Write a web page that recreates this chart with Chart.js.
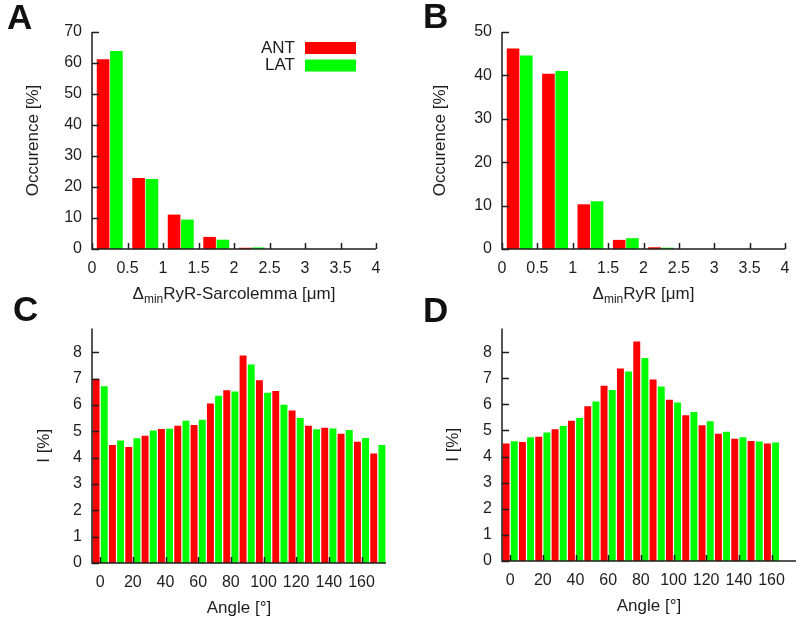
<!DOCTYPE html>
<html>
<head>
<meta charset="utf-8">
<title>RyR distances and angles</title>
<script src="https://cdn.jsdelivr.net/npm/chart.js@4.4.1/dist/chart.umd.min.js"></script>
<style>
    body { margin: 0; background: #fff; }
    #fig { position: relative; width: 800px; height: 618px; overflow: hidden; background: #fff; }
    #fig canvas { position: absolute; }
    .letter { position: absolute; font: bold 35px 'Liberation Sans', Arial, sans-serif; line-height: 1; color: #111; }
</style>
</head>
<body>
<div id="fig">
    <canvas id="chartA" width="400" height="309" style="left:0px;top:0px"></canvas>
    <canvas id="chartB" width="400" height="309" style="left:400px;top:0px"></canvas>
    <canvas id="chartC" width="400" height="309" style="left:0px;top:309px"></canvas>
    <canvas id="chartD" width="400" height="309" style="left:400px;top:309px"></canvas>
    <div class="letter" style="left:7px;top:-1px">A</div>
    <div class="letter" style="left:423px;top:-2px">B</div>
    <div class="letter" style="left:13px;top:291px">C</div>
    <div class="letter" style="left:423px;top:292px">D</div>
</div>
<script>
// ---- data ----
const seriesNames = ['ANT', 'LAT'];

// A / B: histogram bins of 0.5 um (bin centres)
const distBins = [0.25, 0.75, 1.25, 1.75, 2.25, 2.75, 3.25, 3.75];
const antSarcolemma = [61.2, 22.9, 11.1, 3.9, 0.4, 0, 0, 0];
const latSarcolemma = [63.9, 22.6, 9.5, 3.0, 0.5, 0, 0, 0];
const antRyR = [46.2, 40.4, 10.3, 2.1, 0.4, 0, 0, 0];
const latRyR = [44.6, 41.0, 11.0, 2.5, 0.3, 0, 0, 0];

// C / D: angle bins of 10 degrees
const anglesC = [0, 10, 20, 30, 40, 50, 60, 70, 80, 90, 100, 110, 120, 130, 140, 150, 160, 170];
const antAngleC = [7.0, 4.48, 4.4, 4.83, 5.09, 5.21, 5.24, 6.06, 6.56, 7.88, 6.94, 6.53, 5.79, 5.21, 5.14, 4.91, 4.6, 4.16];
const latAngleC = [6.71, 4.65, 4.74, 5.03, 5.1, 5.4, 5.44, 6.35, 6.51, 7.54, 6.46, 6.01, 5.51, 5.08, 5.11, 5.05, 4.75, 4.48];
const anglesD = [0, 10, 20, 30, 40, 50, 60, 70, 80, 90, 100, 110, 120, 130, 140, 150, 160];
const antAngleD = [4.5, 4.56, 4.76, 5.05, 5.37, 5.93, 6.71, 7.37, 8.41, 6.95, 6.18, 5.58, 5.2, 4.87, 4.68, 4.6, 4.5];
const latAngleD = [4.59, 4.74, 4.92, 5.17, 5.48, 6.11, 6.55, 7.26, 7.77, 6.68, 6.07, 5.71, 5.35, 4.95, 4.74, 4.58, 4.54];

// tick labels
const distTicks = [0, 0.5, 1, 1.5, 2, 2.5, 3, 3.5, 4];
const occTicksA = [0, 10, 20, 30, 40, 50, 60, 70];
const occTicksB = [0, 10, 20, 30, 40, 50];
const angleTicks = [0, 20, 40, 60, 80, 100, 120, 140, 160];
const intensityTicks = [0, 1, 2, 3, 4, 5, 6, 7, 8];

const RED = '#ff0000';
const GREEN = '#00ff00';
const INK = '#1e1e1e';
const FONT = "'Liberation Sans', Arial, Helvetica, sans-serif";

Chart.defaults.font.family = FONT;
Chart.defaults.color = INK;

// gnuplot-ish look: axis lines, inward ticks, titles with subscripts, legend
const panelDecor = {
    id: 'panelDecor',
    afterDatasetsDraw(chart, args, opts) {
        const { ctx, chartArea: a, scales: { x, y } } = chart;
        ctx.save();
        ctx.strokeStyle = INK;
        ctx.lineWidth = 1.5;
        ctx.beginPath();
        ctx.moveTo(a.left, a.top);
        ctx.lineTo(a.left, a.bottom);
        ctx.lineTo(a.right, a.bottom);
        y.ticks.forEach((t, i) => {
            const py = Math.round(y.getPixelForTick(i)) + 0.5;
            ctx.moveTo(a.left, py);
            ctx.lineTo(a.left + 7, py);
        });
        x.ticks.forEach((t, i) => {
            const px = Math.round(x.getPixelForTick(i)) + 0.5;
            ctx.moveTo(px, a.bottom);
            ctx.lineTo(px, a.bottom - 6);
        });
        ctx.stroke();

        // y title
        ctx.fillStyle = INK;
        ctx.font = '17px ' + FONT;
        ctx.textAlign = 'center';
        ctx.textBaseline = 'middle';
        ctx.save();
        ctx.translate(opts.yTitleX, (a.top + a.bottom) / 2);
        ctx.rotate(-Math.PI / 2);
        ctx.fillText(opts.yTitle, 0, 0);
        ctx.restore();

        // x title, pieces may be subscripts
        const parts = opts.xTitle;
        const widths = parts.map(p => {
            ctx.font = (p.sub ? '12px ' : '17px ') + FONT;
            return ctx.measureText(p.text).width;
        });
        const total = widths.reduce((s, w) => s + w, 0);
        let cx = (a.left + a.right) / 2 - total / 2;
        const baseY = a.bottom + opts.xTitleOffset;
        ctx.textAlign = 'left';
        ctx.textBaseline = 'alphabetic';
        parts.forEach((p, i) => {
            ctx.font = (p.sub ? '12px ' : '17px ') + FONT;
            ctx.fillText(p.text, cx, baseY + (p.sub ? 4 : 0));
            cx += widths[i];
        });

        // legend (panel A only)
        if (opts.legend) {
            const colors = [RED, GREEN];
            ctx.font = '17px ' + FONT;
            ctx.textAlign = 'right';
            ctx.textBaseline = 'middle';
            seriesNames.forEach((name, i) => {
                const cy = 48 + i * 17.5;
                ctx.fillStyle = INK;
                ctx.fillText(name, 295, cy);
                ctx.fillStyle = colors[i];
                ctx.fillRect(305, cy - 6, 51, 12);
            });
        }
        ctx.restore();
    }
};

function fixTicks(values) {
    return scale => { scale.ticks = values.map(v => ({ value: v })); };
}

function makePanel(id, cfg) {
    const ctx = document.getElementById(id).getContext('2d');
    const toPoints = (xs, ys) => xs.map((v, i) => ({ x: v, y: ys[i] }));

    return new Chart(ctx, {
        type: 'bar',
        data: {
            datasets: [
                {
                    label: seriesNames[0],
                    data: toPoints(cfg.bins, cfg.ant),
                    backgroundColor: RED,
                    borderWidth: 0,
                    categoryPercentage: cfg.catPct,
                    barPercentage: cfg.barPct
                },
                {
                    label: seriesNames[1],
                    data: toPoints(cfg.bins, cfg.lat),
                    backgroundColor: GREEN,
                    borderWidth: 0,
                    categoryPercentage: cfg.catPct,
                    barPercentage: cfg.barPct
                }
            ]
        },
        options: {
            responsive: false,
            animation: false,
            layout: {
                padding: { left: 0, top: cfg.area.top, right: 400 - cfg.area.right, bottom: 0 }
            },
            scales: {
                x: {
                    type: 'linear',
                    offset: false,
                    min: cfg.xMin,
                    max: cfg.xMax,
                    grid: { display: false, drawTicks: false },
                    border: { display: false },
                    afterBuildTicks: fixTicks(cfg.xTicks),
                    afterFit: scale => { scale.height = 309 - cfg.area.bottom; },
                    ticks: {
                        autoSkip: false,
                        maxRotation: 0,
                        padding: 10,
                        font: { size: 16 },
                        callback: v => String(v)
                    }
                },
                y: {
                    min: 0,
                    max: cfg.yMax,
                    grid: { display: false, drawTicks: false },
                    border: { display: false },
                    afterBuildTicks: fixTicks(cfg.yTicks),
                    afterFit: scale => { scale.width = cfg.area.left; },
                    ticks: {
                        padding: 10,
                        font: { size: 16 },
                        callback: v => String(v)
                    }
                }
            },
            plugins: {
                legend: { display: false },
                tooltip: { enabled: false },
                panelDecor: {
                    yTitle: cfg.yTitle,
                    yTitleX: cfg.yTitleX,
                    xTitle: cfg.xTitle,
                    xTitleOffset: cfg.xTitleOffset,
                    legend: cfg.legend
                }
            }
        },
        plugins: [panelDecor]
    });
}

function init() {
    // chart areas are given in canvas coordinates (each canvas is 400x309)
    makePanel('chartA', {
        bins: distBins, ant: antSarcolemma, lat: latSarcolemma,
        xMin: 0, xMax: 4, yMax: 70, xTicks: distTicks, yTicks: occTicksA,
        area: { left: 92, top: 32, right: 376, bottom: 249 },
        catPct: 0.75, barPct: 0.95,
        yTitle: 'Occurence [%]', yTitleX: 33,
        xTitle: [{ text: 'Δ' }, { text: 'min', sub: true }, { text: 'RyR-Sarcolemma [μm]' }],
        xTitleOffset: 50, legend: true
    });

    makePanel('chartB', {
        bins: distBins, ant: antRyR, lat: latRyR,
        xMin: 0, xMax: 4, yMax: 50, xTicks: distTicks, yTicks: occTicksB,
        area: { left: 102, top: 32, right: 385, bottom: 249 },
        catPct: 0.75, barPct: 0.95,
        yTitle: 'Occurence [%]', yTitleX: 40,
        xTitle: [{ text: 'Δ' }, { text: 'min', sub: true }, { text: 'RyR [μm]' }],
        xTitleOffset: 50, legend: false
    });

    makePanel('chartC', {
        bins: anglesC, ant: antAngleC, lat: latAngleC,
        xMin: -5, xMax: 175, yMax: 8.9, xTicks: angleTicks, yTicks: intensityTicks,
        area: { left: 92, top: 16, right: 386, bottom: 254 },
        catPct: 1.0, barPct: 0.85,
        yTitle: 'I [%]', yTitleX: 44,
        xTitle: [{ text: 'Angle [°]' }],
        xTitleOffset: 50, legend: false
    });

    makePanel('chartD', {
        bins: anglesD, ant: antAngleD, lat: latAngleD,
        xMin: -5, xMax: 175, yMax: 8.9, xTicks: angleTicks, yTicks: intensityTicks,
        area: { left: 102, top: 15, right: 396, bottom: 252 },
        catPct: 1.0, barPct: 0.85,
        yTitle: 'I [%]', yTitleX: 53,
        xTitle: [{ text: 'Angle [°]' }],
        xTitleOffset: 50, legend: false
    });
}

window.addEventListener('load', init);
</script>
</body>
</html>
